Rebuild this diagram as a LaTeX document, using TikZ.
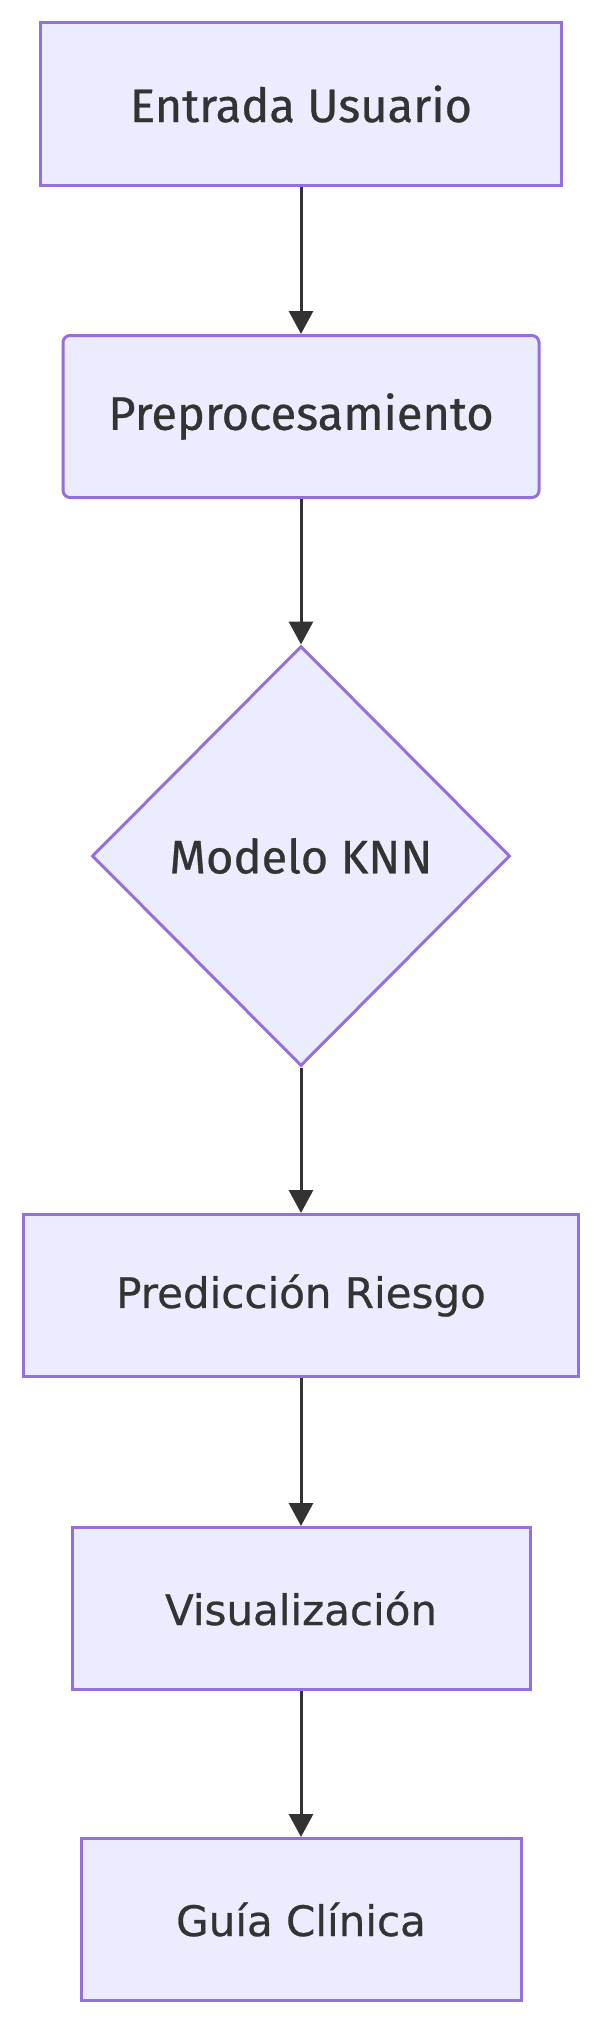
\documentclass[tikz,border=0pt]{standalone}
\usepackage{fontspec}
\newfontfamily\narrowfont[FakeBold=0.6]{Fira Sans}
\newfontfamily\widefont[FakeBold=0.6]{DejaVu Sans}
\usetikzlibrary{arrows.meta, shapes.geometric}
\definecolor{nodefill}{HTML}{ECECFF}
\definecolor{nodeline}{HTML}{9370DB}
\definecolor{inkgray}{HTML}{333333}

\begin{document}
\begin{tikzpicture}[
			x=1pt, y=-1pt,
			base/.style={draw=nodeline, fill=nodefill, line width=3pt, text=inkgray, inner sep=0pt, align=center},
			box/.style={base, minimum height=162pt, font=\widefont\fontsize{42}{50}\selectfont},
			topbox/.style={base, minimum height=162pt, font=\narrowfont\fontsize{47}{56}\selectfont},
			round/.style={topbox, rounded corners=7pt},
			decision/.style={base, diamond, aspect=1, minimum width=418pt, minimum height=420pt, font=\narrowfont\fontsize{47}{56}\selectfont},
			flow/.style={draw=inkgray, line width=3pt, -{Triangle[length=23pt, width=24pt]}},
			]
			\useasboundingbox (0,0) rectangle (602,2026);
			
			% Knoten von oben nach unten
			\node[topbox, minimum width=521pt] (Entrada) at (301,104) {Entrada Usuario};
			\node[round, minimum width=476pt] (Preproc) at (301,416.5) {Preprocesamiento};
			\node[decision] (Modelo) at (301,856) {Modelo KNN};
			\node[box, minimum width=555pt] (Prediccion) at (301,1295.5) {Predicción Riesgo};
			\node[box, minimum width=458pt] (Visual) at (301,1608.5) {Visualización};
			\node[box, minimum width=440pt] (Guia) at (301,1919.5) {Guía Clínica};
			
			% Pfeile
			\draw[flow] (Entrada) -- (Preproc);
			\draw[flow] (Preproc) -- (Modelo);
			\draw[flow] (Modelo) -- (Prediccion);
			\draw[flow] (Prediccion) -- (Visual);
			\draw[flow] (Visual) -- (Guia);
			
		\end{tikzpicture}
\end{document}
